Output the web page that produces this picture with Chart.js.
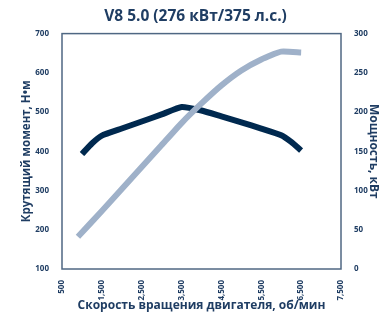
<!DOCTYPE html>
<html>
<head>
<meta charset="utf-8">
<script src="https://cdn.jsdelivr.net/npm/chart.js@4"></script>
<style>
  body { margin: 0; background: #fff; }
  #wrap { width: 391px; height: 315px; }
</style>
</head>
<body>
<div id="wrap"><canvas id="engine"></canvas></div>
<script>
const torqueRpm = [1000, 1250, 1500, 2000, 2500, 3000, 3500, 4000, 4500, 5000, 5500, 6000, 6250, 6500];
const torque = [393, 420, 440, 458, 476, 494, 513, 504, 489, 474, 458, 441, 424, 402];
const powerRpm = [900, 1500, 2000, 2500, 3000, 3500, 4000, 4500, 5000, 5500, 6000, 6500];
const power = [41, 74, 102, 130, 158, 186, 211, 234, 253, 267, 277, 276];
const xTicks = [500, 1500, 2500, 3500, 4500, 5500, 6500, 7500];

const ink = '#1f3d63';
const frame = '#4f6783';

(function () {
    const toPoints = (xs, vals) => xs.map((r, i) => ({ x: r, y: vals[i] }));

    // box around the plot area
    const boxPlugin = {
        id: 'box',
        afterDatasetsDraw(chart) {
            const a = chart.chartArea, ctx = chart.ctx;
            ctx.save();
            ctx.strokeStyle = frame;
            ctx.lineWidth = 1.5;
            ctx.strokeRect(a.left, a.top, a.right - a.left, a.bottom - a.top);
            ctx.restore();
        }
    };

    const tickFont = { family: 'Open Sans', size: 8, weight: 'bold' };
    const titleFont = { family: 'Open Sans', size: 12, weight: 'bold' };

    new Chart(document.getElementById('engine'), {
        type: 'line',
        data: {
            datasets: [{
                label: 'Мощность',
                data: toPoints(powerRpm, power),
                yAxisID: 'y1',
                borderColor: '#9fb1c9',
                borderWidth: 6,
                tension: 0.15,
                pointRadius: 0,
                fill: false
            }, {
                label: 'Крутящий момент',
                data: toPoints(torqueRpm, torque),
                yAxisID: 'y',
                borderColor: '#00294f',
                borderWidth: 6,
                tension: 0.15,
                pointRadius: 0,
                fill: false
            }]
        },
        options: {
            responsive: true,
            maintainAspectRatio: false,
            animation: false,
            layout: { padding: 0 },
            plugins: {
                legend: { display: false },
                tooltip: { enabled: false },
                title: {
                    display: true,
                    text: 'V8 5.0 (276 кВт/375 л.с.)',
                    color: ink,
                    font: { family: 'Open Sans', size: 15.5, weight: 'bold' },
                    padding: { top: 7, bottom: 8 }
                }
            },
            scales: {
                x: {
                    type: 'linear',
                    min: 500,
                    max: 7500,
                    afterBuildTicks: (s) => { s.ticks = xTicks.map(v => ({ value: v })); },
                    afterFit: (s) => { s.height = 46; },
                    grid: { display: false },
                    border: { display: false },
                    ticks: {
                        color: ink,
                        font: tickFont,
                        padding: 3,
                        minRotation: 90,
                        maxRotation: 90,
                        callback: (v) => v.toLocaleString('en-US')
                    },
                    title: {
                        display: true,
                        text: 'Скорость вращения двигателя, об/мин',
                        color: ink,
                        font: titleFont,
                        padding: { top: 0, bottom: 2 }
                    }
                },
                y: {
                    position: 'left',
                    min: 100,
                    max: 700,
                    afterFit: (s) => { s.width = 62; },
                    grid: { display: false },
                    border: { display: false },
                    ticks: { stepSize: 100, color: ink, font: tickFont, padding: 5 },
                    title: {
                        display: true,
                        text: 'Крутящий момент, Н•м',
                        color: ink,
                        font: { family: 'Open Sans', size: 11.5, weight: 'bold' },
                        padding: { top: 20, bottom: 0 }
                    }
                },
                y1: {
                    position: 'right',
                    min: 0,
                    max: 300,
                    afterFit: (s) => { s.width = 50; },
                    grid: { display: false },
                    border: { display: false },
                    ticks: { stepSize: 50, color: ink, font: tickFont, padding: 5 },
                    title: {
                        display: true,
                        text: 'Мощность, кВт',
                        color: ink,
                        font: titleFont,
                        padding: { top: 10, bottom: 0 }
                    }
                }
            }
        },
        plugins: [boxPlugin]
    });
})();
</script>
</body>
</html>
